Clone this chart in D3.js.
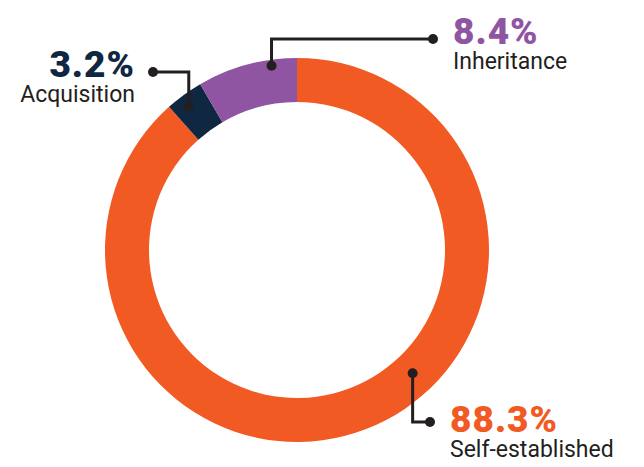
<!DOCTYPE html>
<html>
<head>
<meta charset="utf-8">
<script src="https://cdn.jsdelivr.net/npm/d3@7"></script>
<style>
  body { margin: 0; background: #fff; }
  text { font-family: Roboto, "Noto Sans", sans-serif; }
</style>
</head>
<body>
<div id="chart"></div>
<script>
// data
var categories = ["Self-established", "Acquisition", "Inheritance"];
var values = [88.3, 3.2, 8.4];
var colors = ["#F15A22", "#0F2740", "#9055A2"];

// where each leader line sits: fraction along the slice, radius, elbow, end
var callouts = [
  {frac: 0.43, r: 169, elbowY: 422, endX: 430, side: "right", below: true},
  {frac: 0.42, r: 180, elbowY: 72, endX: 153, side: "left", below: false},
  {frac: 0.74, r: 186, elbowY: 39, endX: 433, side: "right", below: false}
];

var width = 644, height = 467;
var cx = 297, cy = 250,
    outerR = 192, innerR = 148;

var svg = d3.select("#chart")
  .append("svg")
    .attr("width", width)
    .attr("height", height);

var g = svg.append("g")
    .attr("transform", "translate(" + cx + "," + cy + ")");

var pie = d3.pie().sort(null).value(function(d) { return d; });
var arcs = pie(values);

var arc = d3.arc().innerRadius(innerR).outerRadius(outerR);

g.selectAll("path")
  .data(arcs)
  .enter().append("path")
    .attr("d", arc)
    .attr("fill", function(d, i) { return colors[i]; });

// leader lines
var ink = "#231F20";
arcs.forEach(function(d, i) {
  var c = callouts[i];
  var a = d.startAngle + (d.endAngle - d.startAngle) * c.frac;
  var px = cx + c.r * Math.sin(a),
      py = cy - c.r * Math.cos(a);

  svg.append("path")
    .attr("d", "M" + px + "," + py + "V" + c.elbowY + "H" + c.endX)
    .attr("fill", "none")
    .attr("stroke", ink)
    .attr("stroke-width", 3);

  svg.append("circle").attr("cx", px).attr("cy", py).attr("r", 5).attr("fill", ink);
  svg.append("circle").attr("cx", c.endX).attr("cy", c.elbowY).attr("r", 5).attr("fill", ink);

  var tx = c.side == "right" ? c.endX + 20 : c.endX - 18;
  var anchor = c.side == "right" ? "start" : "end";
  var baseY = c.below ? c.elbowY + 10 : c.elbowY + 5;

  svg.append("text")
    .attr("x", tx)
    .attr("y", baseY)
    .attr("text-anchor", anchor)
    .attr("fill", colors[i])
    .style("font-size", "37px")
    .style("font-weight", 900)
    .style("letter-spacing", "1px")
    .text(values[i] + "%");

  svg.append("text")
    .attr("x", tx)
    .attr("y", baseY + 25)
    .attr("text-anchor", anchor)
    .attr("fill", ink)
    .style("font-size", "23px")
    .text(categories[i]);
});
</script>
</body>
</html>
